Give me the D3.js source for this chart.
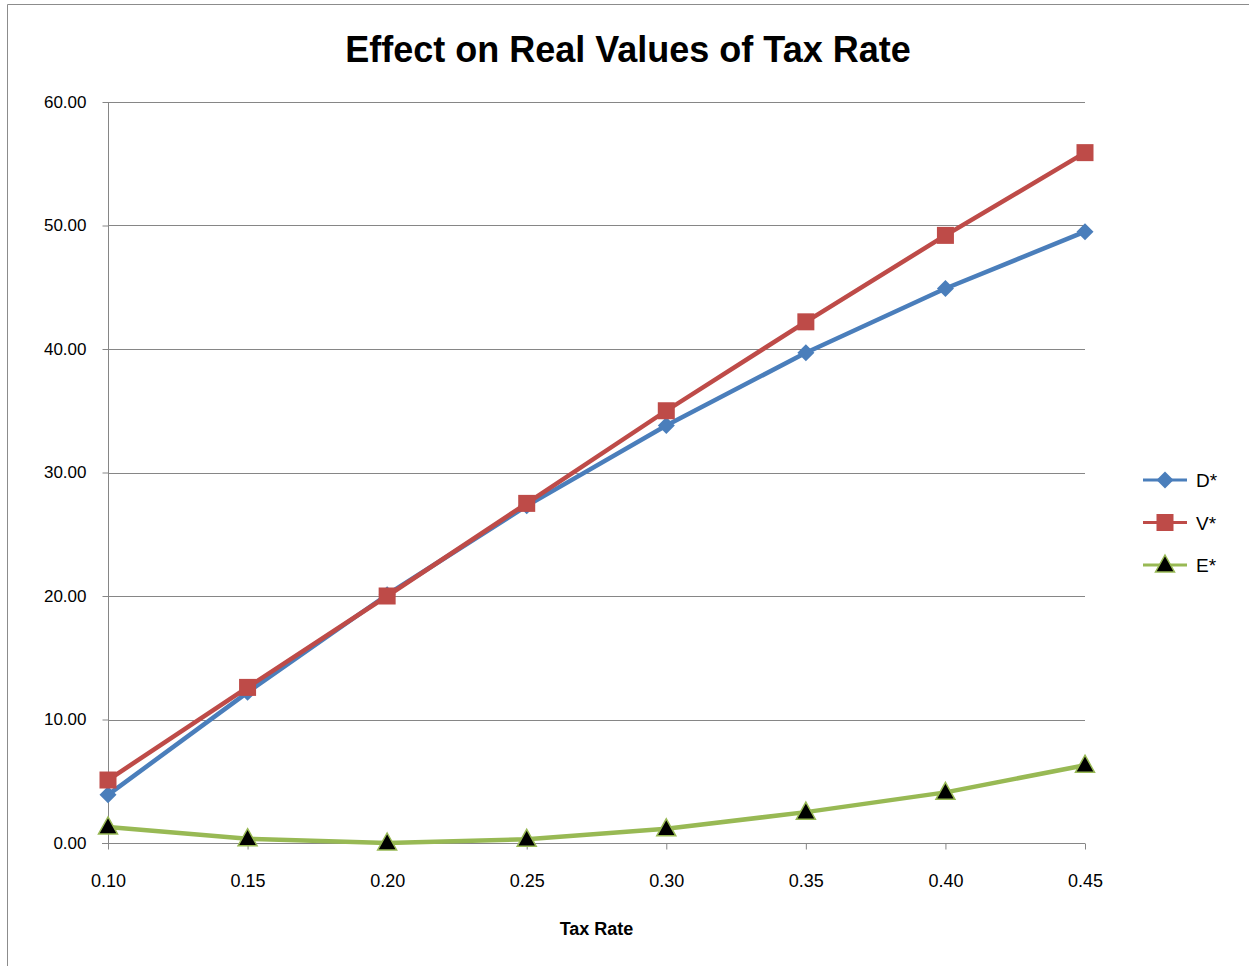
<!DOCTYPE html>
<html>
<head>
<meta charset="utf-8">
<script src="https://cdn.jsdelivr.net/npm/d3@7"></script>
<style>
  body { margin: 0; background: #fff; }
  svg { display: block; font-family: "Liberation Sans", Arial, sans-serif; }
</style>
</head>
<body>
<svg id="chart" width="1249" height="966"></svg>
<script>
// Data
const taxRates = ["0.10", "0.15", "0.20", "0.25", "0.30", "0.35", "0.40", "0.45"];
const dStar = [3.9, 12.2, 20.1, 27.3, 33.8, 39.7, 44.9, 49.5];
const vStar = [5.1, 12.6, 20.0, 27.5, 35.0, 42.2, 49.2, 55.9];
const eStar = [1.3, 0.35, 0.0, 0.3, 1.15, 2.5, 4.1, 6.3];
const yTicks = [0, 10, 20, 30, 40, 50, 60];

const series = [
  { name: "D*", values: dStar, color: "#4A7EBB", marker: "diamond" },
  { name: "V*", values: vStar, color: "#BE4B48", marker: "square" },
  { name: "E*", values: eStar, color: "#98B954", marker: "triangle" }
];

const svg = d3.select("#chart");
const gridColor = "#868686";

// chart frame
svg.append("path")
  .attr("d", "M7.5,966 V4.5 H1249")
  .attr("fill", "none")
  .attr("stroke", "#8c8c8c")
  .attr("stroke-width", 1);

const plot = { left: 108, right: 1085, top: 102, bottom: 843 };

const x = d3.scalePoint().domain(taxRates).range([plot.left, plot.right]);
const y = d3.scaleLinear().domain([0, 60]).range([plot.bottom, plot.top]);

// Title
svg.append("text")
  .attr("x", 628).attr("y", 62)
  .attr("text-anchor", "middle")
  .style("font-size", "36px").style("font-weight", "bold")
  .text("Effect on Real Values of Tax Rate");

// Gridlines
svg.append("g").selectAll("line")
  .data(yTicks.filter(d => d > 0))
  .join("line")
  .attr("x1", plot.left).attr("x2", plot.right)
  .attr("y1", d => Math.round(y(d)) + 0.5).attr("y2", d => Math.round(y(d)) + 0.5)
  .attr("stroke", gridColor);

// Y axis
const yAxis = svg.append("g")
  .attr("transform", `translate(${plot.left + 0.5},0)`)
  .call(d3.axisLeft(y).tickValues(yTicks).tickFormat(d3.format(".2f")).tickSize(6).tickPadding(16));
yAxis.select(".domain").attr("stroke", gridColor).attr("d", `M0,${plot.top}V${plot.bottom}`);
yAxis.selectAll(".tick line").attr("stroke", gridColor);
yAxis.selectAll(".tick text").style("font-size", "17px").attr("fill", "#000");

// X axis
const xAxis = svg.append("g")
  .attr("transform", `translate(0,${plot.bottom + 0.5})`)
  .call(d3.axisBottom(x).tickSize(6).tickPadding(25));
xAxis.select(".domain").attr("stroke", gridColor).attr("d", `M${plot.left - 6},0H${plot.right}`);
xAxis.selectAll(".tick line").attr("stroke", gridColor);
xAxis.selectAll(".tick text").style("font-size", "18px").attr("fill", "#000");

svg.append("text")
  .attr("x", (plot.left + plot.right) / 2).attr("y", 935)
  .attr("text-anchor", "middle")
  .style("font-size", "18px").style("font-weight", "bold")
  .text("Tax Rate");

// Marker drawing
function drawMarker(g, type, color) {
  if (type === "diamond") {
    g.append("path").attr("d", "M0,-8.5L8.5,0L0,8.5L-8.5,0Z").attr("fill", color);
  } else if (type === "square") {
    g.append("rect").attr("x", -8.5).attr("y", -8.5).attr("width", 17).attr("height", 17).attr("fill", color);
  } else {
    g.append("path").attr("d", "M0,-10L9.5,7L-9.5,7Z")
      .attr("fill", "#000").attr("stroke", color).attr("stroke-width", 1.5);
  }
}

const line = d3.line().x((d, i) => x(taxRates[i])).y(d => y(d));

series.forEach(s => {
  svg.append("path")
    .datum(s.values)
    .attr("d", line)
    .attr("fill", "none")
    .attr("stroke", s.color)
    .attr("stroke-width", 4.5)
    .attr("stroke-linejoin", "round");
  s.values.forEach((v, i) => {
    const g = svg.append("g").attr("transform", `translate(${x(taxRates[i])},${y(v)})`);
    drawMarker(g, s.marker, s.color);
  });
});

// Legend
const legend = svg.append("g").attr("transform", "translate(1143,480)");
series.forEach((s, i) => {
  const row = legend.append("g").attr("transform", `translate(0,${i * 42.5})`);
  row.append("line").attr("x1", 0).attr("x2", 44).attr("stroke", s.color).attr("stroke-width", 3);
  const m = row.append("g").attr("transform", "translate(22,0)");
  drawMarker(m, s.marker, s.color);
  row.append("text").attr("x", 53).attr("y", 7)
    .style("font-size", "19px").text(s.name);
});
</script>
</body>
</html>
